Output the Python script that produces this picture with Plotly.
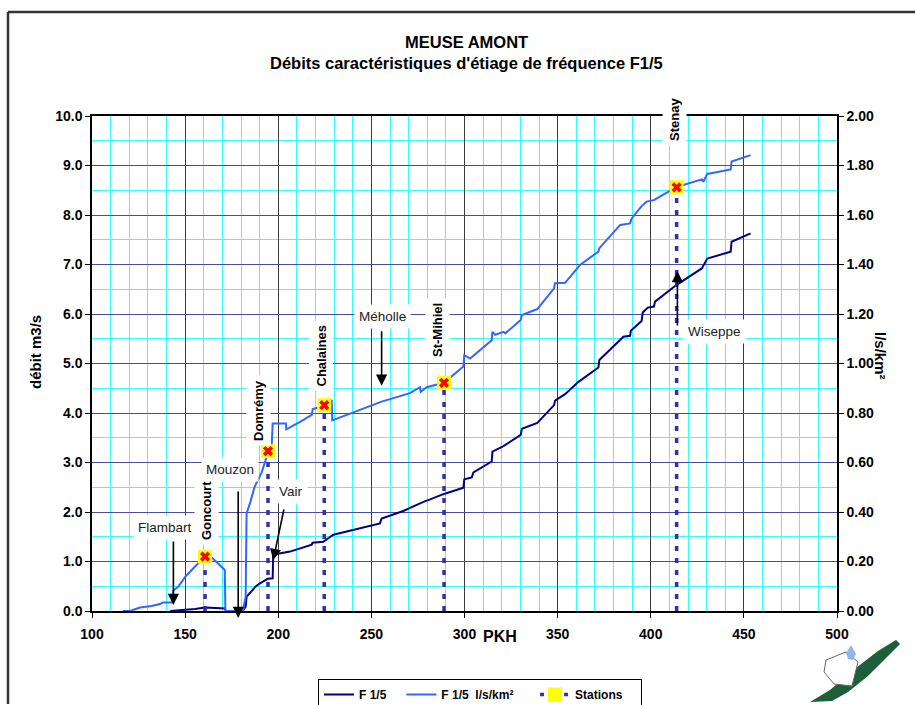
import plotly.graph_objects as go

# ---------------- data ----------------
# F 1/5 discharge (m3/s) along the river (PKH)
pkh_f15 = [142, 150, 155.3, 160.7, 166, 171.4, 171.8, 181.0, 182.5, 183.0, 188.0, 190.2, 194.3, 197.0,
           197.3, 199.2, 206.3, 213.5, 218.0, 218.4, 224.2, 229.6, 254.6, 255.5, 267.1, 278.8, 280.6,
           288.6, 299.4, 299.9, 303.9, 304.8, 314.6, 315.0, 320.9, 330.2, 330.8, 339.1, 348.1, 348.6,
           354.0, 361.2, 371.9, 372.4, 385.3, 388.9, 389.3, 395.1, 395.7, 398.4, 401.7, 402.3, 413.9,
           427.4, 430.4, 442.9, 443.4, 453.6]
q_f15 = [0.0, 0.02, 0.04, 0.07, 0.06, 0.05, 0.0, 0.0, 0.09, 0.29, 0.50, 0.56, 0.65, 0.66,
         1.13, 1.15, 1.20, 1.29, 1.34, 1.38, 1.40, 1.54, 1.77, 1.87, 2.02, 2.22, 2.24,
         2.36, 2.49, 2.66, 2.70, 2.80, 3.02, 3.22, 3.33, 3.56, 3.68, 3.80, 4.16, 4.25,
         4.38, 4.63, 4.92, 5.07, 5.54, 5.56, 5.66, 5.86, 6.03, 6.13, 6.15, 6.25, 6.59,
         6.92, 7.12, 7.26, 7.46, 7.63]

# F 1/5 specific discharge (l/s/km2)
pkh_spec = [116.7, 120.4, 125.8, 132.0, 136.5, 138.0, 142.8, 143.7, 146.3, 150.0, 155.3, 160.7, 163.5,
            171.3, 171.6, 181.0, 182.5, 183.0, 185.0, 187.3, 191.1, 194.7, 196.5, 197.0, 204.1, 204.3,
            211.7, 218.0, 218.5, 222.4, 224.7, 228.7, 229.0, 255.5, 270.7, 276.1, 276.5, 279.7, 289.0,
            299.4, 299.9, 303.0, 314.6, 315.0, 316.5, 321.0, 321.9, 330.2, 330.8, 339.1, 348.1, 348.6,
            354.0, 362.0, 371.9, 372.4, 383.6, 388.9, 389.8, 395.1, 397.8, 401.7, 413.6, 427.4, 428.2,
            430.4, 442.9, 443.4, 453.6]
q_spec = [0.0, 0.0, 0.014, 0.02, 0.028, 0.034, 0.034, 0.084, 0.098, 0.138, 0.18, 0.218, 0.222,
          0.166, 0.0, 0.0, 0.058, 0.394, 0.44, 0.502, 0.56, 0.644, 0.67, 0.758, 0.758, 0.734,
          0.764, 0.792, 0.816, 0.824, 0.832, 0.852, 0.77, 0.846, 0.88, 0.904, 0.886, 0.904, 0.922,
          0.988, 1.034, 1.02, 1.094, 1.128, 1.116, 1.128, 1.122, 1.176, 1.196, 1.22, 1.304, 1.324,
          1.326, 1.398, 1.452, 1.466, 1.56, 1.566, 1.586, 1.636, 1.654, 1.66, 1.712, 1.744, 1.734,
          1.766, 1.784, 1.816, 1.842]

# gauging stations
station_names = ["Goncourt", "Domrémy", "Chalaines", "St-Mihiel", "Stenay"]
station_pkh = [160.7, 194.5, 224.7, 289.0, 413.9]
station_q = [0.22, 0.646, 0.832, 0.922, 1.712]

# tributaries (arrows): name, pkh, value on the m3/s axis
trib_names = ["Flambart", "Mouzon", "Vair", "Méholle", "Wiseppe"]
trib_pkh = [143.7, 178.5, 197.3, 255.5, 414.3]
trib_q = [0.12, -0.14, 1.03, 4.55, 6.87]

# legend names
NBSP = "\u00a0"
legend_names = ["F 1/5" + NBSP * 3, "F 1/5  l/s/km²" + NBSP * 5, "Stations" + NBSP * 4]

# ---------------- figure ----------------
L, R, T, B = 92, 837, 116, 611
W, H = 916, 705


def px(xp):
    return (xp - L) / (R - L)


def py(yp):
    return (B - yp) / (B - T)


FONT = "Liberation Sans, Arial, sans-serif"

fig = go.Figure()

fig.add_trace(go.Scatter(x=pkh_f15, y=q_f15, name=legend_names[0], mode="lines",
                         line=dict(color="#000080", width=2)))
fig.add_trace(go.Scatter(x=pkh_spec, y=q_spec, name=legend_names[1], mode="lines", yaxis="y2",
                         line=dict(color="#3366ff", width=2)))

stem_x, stem_y = [], []
for xs, qs in zip(station_pkh, station_q):
    stem_x += [xs, xs, None]
    stem_y += [0, qs, None]
fig.add_trace(go.Scatter(x=stem_x, y=stem_y, mode="lines", yaxis="y2", showlegend=False,
                         line=dict(color="#333399", width=3.5, dash="5px,7px")))

mk_x, mk_y = [], []
for xs, qs in zip(station_pkh, station_q):
    mk_x += [xs, None]
    mk_y += [qs, None]
fig.add_trace(go.Scatter(x=mk_x, y=mk_y, mode="lines+markers", yaxis="y2", name=legend_names[2],
                         connectgaps=False,
                         line=dict(color="#333399", width=3.5, dash="4px,8px"),
                         marker=dict(symbol="square", size=14, color="#ffff00",
                                     line=dict(width=0))))
fig.add_trace(go.Scatter(x=station_pkh, y=station_q, mode="markers", yaxis="y2", showlegend=False,
                         marker=dict(symbol="x", size=9, color="#ff0000", line=dict(width=0))))

tickfont = dict(family=FONT, size=14, color="black", weight="bold")

fig.update_layout(
    width=W, height=H,
    margin=dict(l=L, r=W - R, t=T, b=H - B, autoexpand=False),
    paper_bgcolor="white", plot_bgcolor="white",
    showlegend=True,
    xaxis=dict(range=[100, 500], tick0=100, dtick=50, showline=True, linecolor="black", linewidth=1.5,
               mirror=True, ticks="outside", ticklen=5, tickcolor="black", tickfont=tickfont,
               ticklabelstandoff=4,
               showgrid=True, gridcolor="#3c3c3c", gridwidth=1, zeroline=False,
               minor=dict(dtick=10, tick0=100, showgrid=True, gridcolor="#33ffff", gridwidth=1)),
    yaxis=dict(range=[0, 10], tick0=0, dtick=1, tickformat=".1f", showline=True, linecolor="black",
               linewidth=1.5, mirror=True, ticks="outside", ticklen=5, tickcolor="black",
               tickfont=tickfont, showgrid=True, gridcolor="#4b4b9b", gridwidth=1, zeroline=False,
               minor=dict(dtick=0.5, tick0=0, showgrid=True, gridcolor="#33ffff", gridwidth=1)),
    yaxis2=dict(range=[0, 2], tick0=0, dtick=0.2, tickformat=".2f", overlaying="y", side="right",
                showline=True, linecolor="black", linewidth=1.5, ticks="outside", ticklen=5,
                tickcolor="black", tickfont=tickfont, showgrid=False, zeroline=False),
    legend=dict(orientation="h", x=px(318), y=py(679), xanchor="left", yanchor="top",
                bgcolor="white", bordercolor="black", borderwidth=1,
                font=dict(family=FONT, size=12, color="black", weight="bold"),
                tracegroupgap=0),
)

ann = []


def label(text, xp, yp, size, angle=0, bg=None, pad=1, color="black"):
    d = dict(text=text, x=px(xp), y=py(yp), xref="paper", yref="paper", xanchor="center",
             yanchor="middle", showarrow=False, textangle=angle, borderpad=pad,
             font=dict(family=FONT, size=size, color=color))
    if bg:
        d["bgcolor"] = bg
    return d


# titles
ann.append(label("<b>MEUSE AMONT</b>", 466, 42, 16.5))
ann.append(label("<b>Débits caractéristiques d'étiage de fréquence F1/5</b>", 466, 63, 16.5))
ann.append(label("<b>débit m3/s</b>", 35, 352, 15, angle=-90))
ann.append(label("<b>l/s/km²</b>", 881, 356, 15, angle=90))
ann.append(label("<b>PKH</b>", 500, 636, 16))

# tributary labels
trib_label_pos = [(164.5, 527), (230, 470), (291, 491), (382, 316), (714, 331)]
for name, (xp, yp) in zip(trib_names, trib_label_pos):
    ann.append(label(name, xp, yp, 13.5, bg="white", pad=4, color="#222222"))

# station labels (rotated, bold)
station_label_pos = [(206, 511), (258, 411), (320.5, 356), (437, 330), (674, 120)]
for name, (xp, yp) in zip(station_names, station_label_pos):
    ann.append(label("<b>" + name + "</b>", xp, yp, 13, angle=-90, bg="white", pad=4))

# tributary arrows (tail offsets in pixels)
tail_offsets = [(0, -65), (0, -128), (11, -52), (0, -56), (0, 56)]
for xv, qv, (dx, dy) in zip(trib_pkh, trib_q, tail_offsets):
    a = dict(text="", x=xv, xref="x", showarrow=True, arrowhead=2, arrowsize=1.4, arrowwidth=1.6,
             arrowcolor="black", ax=dx, ay=dy, axref="pixel", ayref="pixel")
    if qv < 0:
        a.update(y=py(B - qv * (B - T) / 10.0), yref="paper")
    else:
        a.update(y=qv, yref="y")
    ann.append(a)

fig.update_layout(annotations=ann)

# outer frame (kept inside the page) and a simple logo
shapes = [
    dict(type="line", xref="paper", yref="paper", x0=px(8), x1=px(915), y0=py(12), y1=py(12),
         line=dict(color="#333333", width=2.5), layer="above"),
    dict(type="line", xref="paper", yref="paper", x0=px(8), x1=px(8), y0=py(12), y1=py(704),
         line=dict(color="#333333", width=2.5), layer="above"),
]


def path_px(pts):
    return "M " + " L ".join(f"{px(a):.4f},{py(b):.4f}" for a, b in pts) + " Z"


shapes.append(dict(type="path", xref="paper", yref="paper",
                   path=path_px([(810, 702), (830, 690), (856, 668), (878, 651), (896, 640),
                                 (900, 644), (888, 656), (868, 676), (848, 692), (832, 701)]),
                   fillcolor="#1d5e3b", line=dict(width=0)))
shapes.append(dict(type="path", xref="paper", yref="paper",
                   path=path_px([(826, 660), (846, 652), (858, 662), (852, 686), (834, 684), (824, 672)]),
                   fillcolor="white", line=dict(color="#666666", width=1)))
shapes.append(dict(type="path", xref="paper", yref="paper",
                   path=path_px([(851, 645), (856, 654), (853, 660), (848, 659), (846, 653)]),
                   fillcolor="#8fb8e8", line=dict(width=0)))
fig.update_layout(shapes=shapes)

fig.write_html("out.html")
